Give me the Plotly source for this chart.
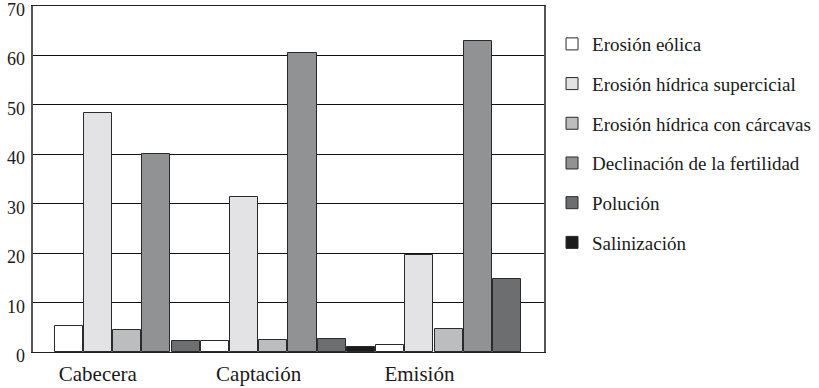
import plotly.graph_objects as go

categories = ["Cabecera", "Captación", "Emisión"]
series_names = [
    "Erosión eólica",
    "Erosión hídrica supercicial",
    "Erosión hídrica con cárcavas",
    "Declinación de la fertilidad",
    "Polución",
    "Salinización",
]
# values per series, one per category (None = not present)
erosion_eolica = [5.2, 2.2, 1.5]
erosion_hidrica_sup = [48.3, 31.4, 19.6]
erosion_carcavas = [4.5, 2.5, 4.7]
declinacion = [40.1, 60.4, 63.0]
polucion = [2.2, 2.7, 14.7]
salinizacion = [None, 1.0, None]
y_ticks = [0, 10, 20, 30, 40, 50, 60, 70]

series_values = [erosion_eolica, erosion_hidrica_sup, erosion_carcavas,
                 declinacion, polucion, salinizacion]
colors = ["#ffffff", "#e3e3e5", "#bcbdbf", "#919294", "#6d6e70", "#1b1b1d"]

FONT = "Liberation Serif, Times New Roman, DejaVu Serif, serif"
LABEL_SHIFT = 1.0

# compute bar slot positions: bars of a group are adjacent, missing values skipped
pos = {}
cursor = 0.0
tick_pos = []
for ci, cat in enumerate(categories):
    start = cursor
    for si, vals in enumerate(series_values):
        if vals[ci] is not None:
            pos[(si, ci)] = cursor + 0.5
            cursor += 1
    tick_pos.append((start + cursor) / 2 - LABEL_SHIFT)

fig = go.Figure()
for si, (name, vals) in enumerate(zip(series_names, series_values)):
    xs, ys = [], []
    for ci, v in enumerate(vals):
        if v is not None:
            xs.append(pos[(si, ci)])
            ys.append(v)
    fig.add_trace(go.Bar(
        x=xs, y=ys, name=name, width=0.96,
        marker=dict(color=colors[si], line=dict(color="#2a2a2a", width=1)),
        legendgroup=name, hoverinfo="skip",
    ))

# y tick labels, placed on the y scale, nudged slightly below their gridline
for t in y_ticks:
    fig.add_annotation(
        x=0, xref="paper", y=t, yref="y", text=str(t), showarrow=False,
        xanchor="right", yanchor="middle", xshift=-6, yshift=-4,
        font=dict(size=18, family=FONT, color="#1a1a1a"),
    )

fig.update_layout(
    width=819, height=388,
    margin=dict(l=33, r=275, t=6, b=36, autoexpand=False),
    paper_bgcolor="white", plot_bgcolor="white",
    font=dict(family=FONT, color="#1a1a1a"),
    showlegend=True,
    legend=dict(x=1.0157, xanchor="left", xref="paper", y=0.945, yanchor="top",
                font=dict(size=19, family=FONT), tracegroupgap=12,
                itemclick=False, bgcolor="rgba(0,0,0,0)"),
    bargap=0,
)
fig.update_xaxes(
    range=[-0.717, 16.76], tickmode="array", tickvals=tick_pos, ticktext=categories,
    tickfont=dict(size=21, family=FONT), showgrid=False, zeroline=False,
    showline=True, linecolor="#222", linewidth=1, mirror=True,
    ticks="", ticklabelstandoff=3, automargin=False,
)
fig.update_yaxes(
    range=[0, 70], tickmode="array", tickvals=y_ticks, showticklabels=False,
    showgrid=True, gridcolor="#111", gridwidth=1, zeroline=False,
    showline=True, linecolor="#555", linewidth=1.5, mirror=True,
    ticks="", automargin=False,
)
fig.write_html("out.html", config={"displayModeBar": False},
               post_script="document.body.style.margin='0';document.body.style.padding='0';")
